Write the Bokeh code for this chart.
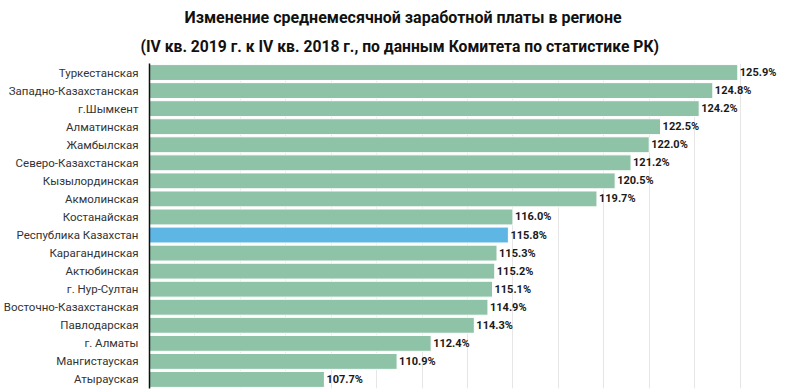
from bokeh.plotting import figure
from bokeh.models import ColumnDataSource, FactorRange, Range1d, FixedTicker, Title
from bokeh.core.properties import value
from bokeh.embed import file_html
from bokeh.resources import INLINE

regions = ["Туркестанская", "Западно-Казахстанская", "г.Шымкент", "Алматинская",
           "Жамбылская", "Северо-Казахстанская", "Кызылординская", "Акмолинская",
           "Костанайская", "Республика Казахстан", "Карагандинская", "Актюбинская",
           "г. Нур-Султан", "Восточно-Казахстанская", "Павлодарская", "г. Алматы",
           "Мангистауская", "Атырауская"]
values = [125.9, 124.8, 124.2, 122.5, 122.0, 121.2, 120.5, 119.7, 116.0, 115.8,
          115.3, 115.2, 115.1, 114.9, 114.3, 112.4, 110.9, 107.7]
highlight = "Республика Казахстан"
grid_ticks = list(range(100, 129, 2))

GREEN = "#8fc3a7"
BLUE = "#5eb6e4"

labels = [f"{v:.1f}%" for v in values]
colors = [BLUE if r == highlight else GREEN for r in regions]
src = ColumnDataSource(dict(region=regions, val=values, lab=labels, color=colors,
                            base=[100] * len(values)))

p = figure(width=792, height=390, output_backend="svg", toolbar_location=None,
           y_range=FactorRange(*list(reversed(regions)), range_padding=0),
           x_range=Range1d(100, 128),
           min_border_left=146, min_border_right=7, min_border_bottom=2, min_border_top=63)

p.add_layout(Title(text="(IV кв. 2019 г. к IV кв. 2018 г., по данным Комитета по статистике РК)",
                   align="left", text_font="Roboto", text_font_size="15.7px",
                   text_font_style="bold", text_color="#111111", offset=-9, standoff=16), "above")
p.add_layout(Title(text="Изменение среднемесячной заработной платы в регионе",
                   align="left", text_font="Roboto", text_font_size="16px",
                   text_font_style="bold", text_color="#111111", offset=35, standoff=0), "above")

p.hbar(y="region", left="base", right="val", height=0.88, fill_color="color",
       line_color="white", line_width=1, source=src)
p.text(x="val", y="region", text="lab", source=src, x_offset=2,
       text_baseline="middle", text_align="left",
       text_font=value("Roboto"), text_font_size="11px", text_font_style="bold",
       text_color="#1a1a1a")

p.xaxis.visible = False
p.xaxis.ticker = FixedTicker(ticks=grid_ticks)
p.xgrid.ticker = FixedTicker(ticks=grid_ticks)
p.xgrid.grid_line_color = "#e6e6e6"
p.ygrid.grid_line_color = None

p.yaxis.axis_line_color = "#111111"
p.yaxis.axis_line_width = 1.5
p.yaxis.major_tick_line_color = None
p.yaxis.minor_tick_line_color = None
p.yaxis.major_label_text_font = "Roboto"
p.yaxis.major_label_text_font_size = "11.5px"
p.yaxis.major_label_text_color = "#333333"
p.yaxis.major_label_standoff = 5

p.outline_line_color = None
p.background_fill_color = "white"
p.border_fill_color = "white"

open("out.html", "w").write(file_html(p, INLINE))
